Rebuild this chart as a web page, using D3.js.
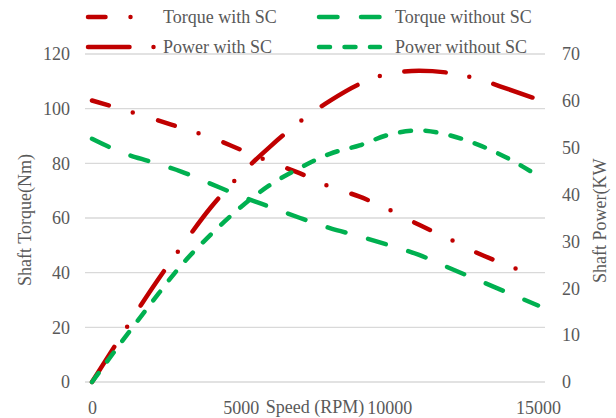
<!DOCTYPE html>
<html>
<head>
<meta charset="utf-8">
<script src="https://cdn.jsdelivr.net/npm/d3@7"></script>
<style>
  body { margin: 0; background: #fff; }
  svg text { font-family: "Liberation Serif", "Times New Roman", serif; fill: #595959; }
</style>
</head>
<body>
<div class="chart-container"></div>
<script>
// values
const speedRpm = [0, 1000, 2000, 3000, 4000, 5000, 6000, 7000, 8000, 9000, 10000, 11000, 12000, 13000, 14000, 15000];
const torqueWithSC = [103, 99.8, 96.5, 93, 89.5, 85, 80.5, 76.3, 71.5, 67.8, 63, 57.5, 52.4, 47, 42.6, 38];
const torqueWithoutSC = [89, 84, 80.5, 77, 72.5, 68, 64, 60, 56.3, 53.3, 50, 46.5, 41.8, 37.2, 32.6, 28];
const powerWithSC = [0, 10, 19.8, 28.8, 37.3, 44.3, 50.3, 55.6, 60, 63.6, 65.8, 66.4, 66, 64.6, 62.5, 60.3];
const powerWithoutSC = [0, 8.6, 16.9, 24.9, 31.5, 37.3, 42.1, 45.7, 48.7, 50.5, 52.8, 53.7, 52.7, 50.6, 47.7, 44];

const xTicks = [0, 5000, 10000, 15000];
const torqueTicks = [0, 20, 40, 60, 80, 100, 120];
const powerTicks = [0, 10, 20, 30, 40, 50, 60, 70];

const width = 616, height = 418;
const red = "#C00000", green = "#00B050";

const svg = d3.select(".chart-container").append("svg")
    .attr("width", width)
    .attr("height", height);

const x = d3.scaleLinear().domain([0, 15000]).range([92, 538]);
const yLeft = d3.scaleLinear().domain([0, 120]).range([382, 54]);
const yRight = d3.scaleLinear().domain([0, 70]).range([382, 54]);

// horizontal gridlines
svg.append("g").selectAll("line")
    .data(torqueTicks)
    .enter().append("line")
    .attr("x1", 85).attr("x2", 545)
    .attr("y1", d => yLeft(d)).attr("y2", d => yLeft(d))
    .attr("stroke", "#d9d9d9")
    .attr("stroke-width", 1.3);

const styleAxis = g => {
    g.select(".domain").remove();
    g.selectAll("text").style("font-size", "18px").attr("fill", "#595959");
};

svg.append("g")
    .attr("transform", "translate(85,0)")
    .call(d3.axisLeft(yLeft).tickValues(torqueTicks).tickSize(0).tickPadding(15))
    .call(styleAxis);

svg.append("g")
    .attr("transform", "translate(545,0)")
    .call(d3.axisRight(yRight).tickValues(powerTicks).tickSize(0).tickPadding(17))
    .call(styleAxis);

svg.append("g")
    .attr("transform", "translate(0,382)")
    .call(d3.axisBottom(x).tickValues(xTicks).tickFormat(d3.format("d")).tickSize(0).tickPadding(19))
    .call(styleAxis);

// axis titles
svg.append("text")
    .attr("transform", "translate(31,220) rotate(-90)")
    .attr("text-anchor", "middle")
    .style("font-size", "18px")
    .text("Shaft Torque(Nm)");

svg.append("text")
    .attr("transform", "translate(606,283) rotate(-90)")
    .attr("text-anchor", "start")
    .style("font-size", "18px")
    .text("Shaft Power(KW");

svg.append("text")
    .attr("x", 315).attr("y", 413)
    .attr("text-anchor", "middle")
    .style("font-size", "18px")
    .text("Speed (RPM)");

// series, drawn in the legend order
const series = [
    { name: "Torque with SC", values: torqueWithSC, y: yLeft, color: red, dash: "17.5 25 0 26.5" },
    { name: "Torque without SC", values: torqueWithoutSC, y: yLeft, color: green, dash: "18.5 23.5" },
    { name: "Power with SC", values: powerWithSC, y: yRight, color: red, dash: "41.5 24 0 25" },
    { name: "Power without SC", values: powerWithoutSC, y: yRight, color: green, dash: "11 14.5" }
];

series.forEach(s => {
    const line = d3.line()
        .x((d, i) => x(speedRpm[i]))
        .y(d => s.y(d))
        .curve(d3.curveMonotoneX);
    svg.append("path")
        .datum(s.values)
        .attr("d", line)
        .attr("fill", "none")
        .attr("stroke", s.color)
        .attr("stroke-width", 4.5)
        .attr("stroke-linecap", "round")
        .attr("stroke-dasharray", s.dash);
});

// legend: two columns, two rows
const legend = svg.append("g").selectAll(".legend")
    .data(series)
    .enter().append("g")
    .attr("class", "legend")
    .attr("transform", (d, i) => `translate(${i % 2 === 0 ? 88 : 319}, ${i < 2 ? 17 : 47})`);

legend.append("line")
    .attr("x1", 0)
    .attr("x2", (d, i) => i % 2 === 0 ? 68 : 61)
    .attr("stroke", d => d.color)
    .attr("stroke-width", 4.5)
    .attr("stroke-linecap", "round")
    .attr("stroke-dasharray", d => d.dash);

legend.append("text")
    .attr("x", (d, i) => i % 2 === 0 ? 75 : 76)
    .attr("y", 6)
    .style("font-size", "18px")
    .text(d => d.name);
</script>
</body>
</html>
